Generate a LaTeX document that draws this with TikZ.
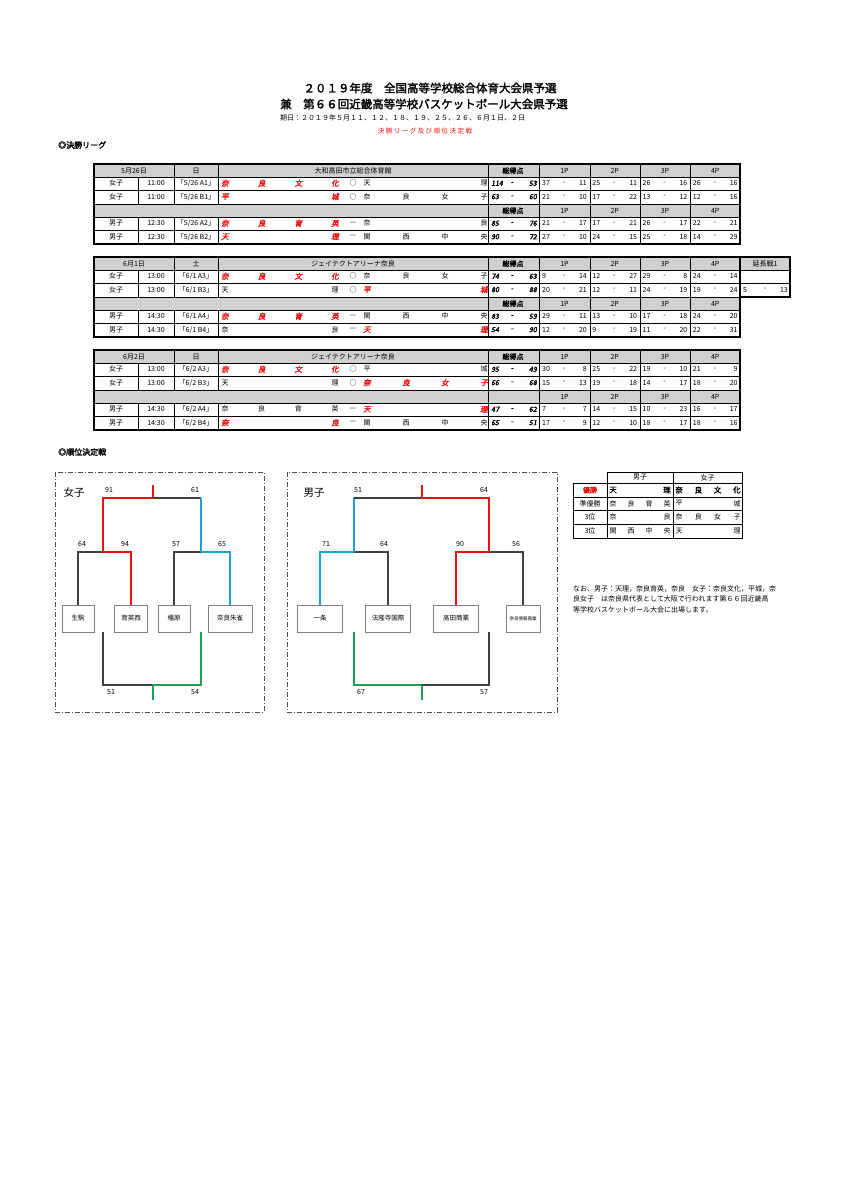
\documentclass[tikz,border=0pt]{standalone}
\usepackage{fontspec}
\setmainfont{Liberation Sans}
\newfontfamily\jp{Noto Sans CJK JP}
\newfontfamily\jpb[FakeBold=2.5,FakeSlant=0.2]{Noto Sans CJK JP}
\newfontfamily\jpbold[FakeBold=2]{Noto Sans CJK JP}
\definecolor{myred}{HTML}{EE1111}
\definecolor{myblue}{HTML}{1EA0E0}
\definecolor{mygreen}{HTML}{1AA050}
\definecolor{hdr}{HTML}{D0D0D0}
\newcommand\tm[6]{\foreach \ch [count=\i] in {#6} \node[t,#5] at ({#2+(\i-1)*(#3-#2)/(#4-1)},#1) {\ch};}
\newcommand\sco[4]{\node[t,anchor=west] at (#1+3,#2){#3}; \node[t] at (#1+25,#2){-}; \node[t,anchor=east] at (#1+48,#2){#4};}
\newcommand\tot[3]{\node[t,tb,anchor=west] at (491,#1){#2}; \node[t,tb] at (512,#1){-}; \node[t,tb,anchor=east] at (537,#1){#3};}
\newcommand\pers[2]{\foreach \a/\b [count=\k] in {#2} {\pgfmathsetmacro\xs{539+(\k-1)*50.25}\sco{\xs}{#1}{\a}{\b}}}
\newcommand\lrow[4]{\node[t] at (116,#1){#2}; \node[t] at (156,#1){#3}; \node[t] at (196,#1){#4};}
\newcommand\tgrid[5]{%
 \fill[hdr] (94,#1) rectangle (740,#1+13.3);
 \fill[hdr] (94,#1+40) rectangle (740,#1+53.3);
 \foreach \r in {1,2,3,4,5} \draw[thin] (94,#1+\r*13.33) -- (740,#1+\r*13.33);
 \foreach \xx in {174,218} {\draw[thin] (\xx,#1) -- (\xx,#1+40); \draw[thin] (\xx,#1+53.3) -- (\xx,#1+80);}
 \foreach \xx in {138} {\draw[thin] (\xx,#1+13.3) -- (\xx,#1+40); \draw[thin] (\xx,#1+53.3) -- (\xx,#1+80);}
 \foreach \xx in {488,539,590,640,690} \draw[thin] (\xx,#1) -- (\xx,#1+80);
 \draw[line width=1.1pt] (94,#1) rectangle (740,#1+80);
 \node[t] at (134,#1+6.7){#2}; \node[t] at (196,#1+6.7){#3}; \node[t] at (353,#1+6.7){#4};
 \node[t,font=\jpbold\fontsize{7}{8}\selectfont] at (513,#1+6.7){総得点};
 \node[t,font=\jpbold\fontsize{7}{8}\selectfont] at (513,#1+46.7){#5};
 \foreach \p [count=\k] in {1P,2P,3P,4P} {\pgfmathsetmacro\xs{564.5+(\k-1)*50.25}\node[t] at (\xs,#1+6.7){\p}; \node[t] at (\xs,#1+46.7){\p};}
}
\begin{document}
\begin{tikzpicture}[x=1pt,y=-1pt,
 t/.style={font=\jp\fontsize{7}{8}\selectfont,inner sep=0pt},
 tb/.style={font=\jpb\fontsize{7}{8}\selectfont},
 w/.style={font=\jpb\fontsize{7.5}{8}\selectfont,text=myred},
 team/.style={draw=gray,line width=0.6pt,minimum height=27pt,font=\jp\fontsize{6.5}{7}\selectfont,inner sep=0pt},
 num/.style={font=\jp\fontsize{7}{8}\selectfont,inner sep=0pt},
 br/.style={line width=1.2pt},
 frame/.style={draw=black!70,line width=0.8pt,dash pattern=on 5pt off 2pt on 1pt off 2pt}]
\useasboundingbox (0,0) rectangle (848,1200);
\fill[white] (0,0) rectangle (848,1200);
% titles
\node[font=\jpbold\fontsize{11.5}{13}\selectfont,inner sep=0pt] (t1) at (430,88) {２０１９年度\quad 全国高等学校総合体育大会県予選};
\node[font=\jpbold\fontsize{11.5}{13}\selectfont,inner sep=0pt] (t2) at (424,104) {兼\quad 第６６回近畿高等学校バスケットボール大会県予選};
\node[font=\jp\fontsize{7}{8}\selectfont,inner sep=0pt,anchor=west] (t3) at (280,118) {期日：２０１９年５月１１、１２、１８、１９、２５、２６、６月１日、２日};
\node[font=\jp\fontsize{6.5}{7}\selectfont,inner sep=0pt,text=myred] (t4) at (425,131) {決\ 勝\ リ\ ー\ グ\ 及\ び\ 順\ 位\ 決\ 定\ 戦};
\node[font=\jpbold\fontsize{8}{9}\selectfont,inner sep=0pt,anchor=west] (s1) at (58,145) {◎決勝リーグ};
\node[font=\jpbold\fontsize{8}{9}\selectfont,inner sep=0pt,anchor=west] (s2) at (58,452) {◎順位決定戦};
% ---- table 1
\tgrid{164}{5月26日}{日}{大和高田市立総合体育館}{総得点}
\lrow{183.3}{女子}{11:00}{「5/26\ A1」}\tm{183.3}{225}{335}{4}{w}{奈,良,文,化}\node[t] at (353,183.3){○};\tm{183.3}{367}{484}{2}{}{天,理}
\tot{183.3}{114}{53}\pers{183.3}{37/11,25/11,26/16,26/16}
\lrow{196.7}{女子}{11:00}{「5/26\ B1」}\tm{196.7}{225}{335}{2}{w}{平,城}\node[t] at (353,196.7){○};\tm{196.7}{367}{484}{4}{}{奈,良,女,子}
\tot{196.7}{63}{60}\pers{196.7}{21/10,17/22,13/12,12/16}
\lrow{223.3}{男子}{12:30}{「5/26\ A2」}\tm{223.3}{225}{335}{4}{w}{奈,良,育,英}\node[t] at (353,223.3){—};\tm{223.3}{367}{484}{2}{}{奈,良}
\tot{223.3}{85}{76}\pers{223.3}{21/17,17/21,26/17,22/21}
\lrow{236.7}{男子}{12:30}{「5/26\ B2」}\tm{236.7}{225}{335}{2}{w}{天,理}\node[t] at (353,236.7){—};\tm{236.7}{367}{484}{4}{}{関,西,中,央}
\tot{236.7}{90}{72}\pers{236.7}{27/10,24/15,25/18,14/29}
% ---- table 2
\fill[hdr] (740,257) rectangle (790,270.3);
\draw[thin] (740,270.3) -- (790,270.3);
\draw[thin] (740,283.6) -- (790,283.6);
\draw[line width=1.1pt] (740,257) rectangle (790,297);
\node[t] at (765,263.7){延長戦1};
\tgrid{257}{6月1日}{土}{ジェイテクトアリーナ奈良}{総得点}
\lrow{276.3}{女子}{13:00}{「6/1\ A3」}\tm{276.3}{225}{335}{4}{w}{奈,良,文,化}\node[t] at (353,276.3){○};\tm{276.3}{367}{484}{4}{}{奈,良,女,子}
\tot{276.3}{74}{63}\pers{276.3}{9/14,12/27,29/8,24/14}
\lrow{289.7}{女子}{13:00}{「6/1\ B3」}\tm{289.7}{225}{335}{2}{}{天,理}\node[t] at (353,289.7){○};\tm{289.7}{367}{484}{2}{w}{平,城}
\tot{289.7}{80}{88}\pers{289.7}{20/21,12/11,24/19,19/24,5/13}
\lrow{316.3}{男子}{14:30}{「6/1\ A4」}\tm{316.3}{225}{335}{4}{w}{奈,良,育,英}\node[t] at (353,316.3){—};\tm{316.3}{367}{484}{4}{}{関,西,中,央}
\tot{316.3}{83}{59}\pers{316.3}{29/11,13/10,17/18,24/20}
\lrow{329.7}{男子}{14:30}{「6/1\ B4」}\tm{329.7}{225}{335}{2}{}{奈,良}\node[t] at (353,329.7){—};\tm{329.7}{367}{484}{2}{w}{天,理}
\tot{329.7}{54}{90}\pers{329.7}{12/20,9/19,11/20,22/31}
% ---- table 3
\tgrid{350}{6月2日}{日}{ジェイテクトアリーナ奈良}{}
\lrow{369.3}{女子}{13:00}{「6/2\ A3」}\tm{369.3}{225}{335}{4}{w}{奈,良,文,化}\node[t] at (353,369.3){○};\tm{369.3}{367}{484}{2}{}{平,城}
\tot{369.3}{95}{49}\pers{369.3}{30/8,25/22,19/10,21/9}
\lrow{382.7}{女子}{13:00}{「6/2\ B3」}\tm{382.7}{225}{335}{2}{}{天,理}\node[t] at (353,382.7){○};\tm{382.7}{367}{484}{4}{w}{奈,良,女,子}
\tot{382.7}{66}{68}\pers{382.7}{15/13,19/18,14/17,18/20}
\lrow{409.3}{男子}{14:30}{「6/2\ A4」}\tm{409.3}{225}{335}{4}{}{奈,良,育,英}\node[t] at (353,409.3){—};\tm{409.3}{367}{484}{2}{w}{天,理}
\tot{409.3}{47}{62}\pers{409.3}{7/7,14/15,10/23,16/17}
\lrow{422.7}{男子}{14:30}{「6/2\ B4」}\tm{422.7}{225}{335}{2}{w}{奈,良}\node[t] at (353,422.7){—};\tm{422.7}{367}{484}{4}{}{関,西,中,央}
\tot{422.7}{65}{51}\pers{422.7}{17/9,12/10,18/17,18/16}
% ---- girls bracket
\draw[frame] (55,472) rectangle (264,712);
\node[font=\jp\fontsize{10.5}{11}\selectfont,inner sep=0pt] (gl) at (74,493) {女子};
\node[team,minimum width=32pt] (g1) at (78,618.5) {生駒};
\node[team,minimum width=33pt] (g2) at (131,618.5) {育英西};
\node[team,minimum width=32pt] (g3) at (174,618.5) {橿原};
\node[team,minimum width=44pt] (g4) at (230,618.5) {奈良朱雀};
\coordinate (gtop) at (153,485);
\coordinate (gbot) at (153,700);
\draw[br,black!75] (g1.north) |- (103,552);
\draw[br,myred] (103,552) -| (g2.north);
\draw[br,black!75] (g3.north) |- (201,552);
\draw[br,myblue] (201,552) -| (g4.north);
\draw[br,myred] (103,552) |- (153,498) -- (gtop);
\draw[br,black!75] (153,498) -- (201,498);
\draw[br,myblue] (201,498) -- (201,552);
\draw[br,black!75] (103,632) |- (153,685);
\draw[br,mygreen] (201,632) |- (153,685) -- (gbot);
\foreach \n/\xx/\yy in {91/109/490,61/195/490,64/82/544,94/125/544,57/176/544,65/222/544,51/111/692,54/195/692} \node[num] at (\xx,\yy) {\n};
% ---- boys bracket
\draw[frame] (287,472) rectangle (557,712);
\node[font=\jp\fontsize{10.5}{11}\selectfont,inner sep=0pt] (bl) at (314,493) {男子};
\node[team,minimum width=45pt] (b1) at (320,618.5) {一条};
\node[team,minimum width=45pt] (b2) at (388,618.5) {法隆寺国際};
\node[team,minimum width=45pt] (b3) at (456,618.5) {高田商業};
\node[team,minimum width=34pt,font=\jp\fontsize{4.5}{5}\selectfont] (b4) at (523,618.5) {奈良情報商業};
\coordinate (btop) at (422,485);
\coordinate (bbot) at (422,700);
\draw[br,myblue] (b1.north) |- (354,552);
\draw[br,black!75] (354,552) -| (b2.north);
\draw[br,myred] (b3.north) |- (489,552);
\draw[br,black!75] (489,552) -| (b4.north);
\draw[br,myblue] (354,552) |- (422,498);
\draw[br,black!75] (422,498) -- (354,498);
\draw[br,myred] (489,552) |- (422,498) -- (btop);
\draw[br,mygreen] (354,632) |- (422,685) -- (bbot);
\draw[br,black!75] (489,632) |- (422,685);
\foreach \n/\xx/\yy in {51/358/490,64/484/490,71/326/544,64/384/544,90/460/544,56/516/544,67/361/692,57/484/692} \node[num] at (\xx,\yy) {\n};
% ---- result table
\draw[thin] (607,472) -- (742,472);
\draw[thin] (573,483) -- (742,483);
\foreach \yy in {497,510,524} \draw[thin] (573,\yy) -- (742,\yy);
\draw[line width=0.9pt] (573,483) rectangle (742,538);
\draw[thin] (607,472) -- (607,538);
\draw[thin] (673,472) -- (673,538);
\draw[thin] (742,472) -- (742,483);
\node[t] at (640,477.5){男子}; \node[t] at (707.5,477.5){女子};
\node[t,font=\jpbold\fontsize{7}{8}\selectfont,text=myred] at (590,490){優勝};
\node[t] at (590,503.5){準優勝}; \node[t] at (590,517){3位}; \node[t] at (590,531){3位};
\tm{490}{613}{667}{2}{font=\jpbold\fontsize{7.5}{8}\selectfont}{天,理}
\tm{490}{679}{737}{4}{font=\jpbold\fontsize{7.5}{8}\selectfont}{奈,良,文,化}
\tm{503.5}{613}{667}{4}{}{奈,良,育,英}\tm{503.5}{679}{737}{2}{}{平,城}
\tm{517}{613}{667}{2}{}{奈,良}\tm{517}{679}{737}{4}{}{奈,良,女,子}
\tm{531}{613}{667}{4}{}{関,西,中,央}\tm{531}{679}{737}{2}{}{天,理}
\node[font=\jp\fontsize{7}{10.5}\selectfont,inner sep=0pt,anchor=north west,align=left] (note) at (573,585) {なお、男子：天理，奈良育英，奈良　女子：奈良文化，平城，奈\\良女子　は奈良県代表として大阪で行われます第６６回近畿高\\等学校バスケットボール大会に出場します。};
\end{tikzpicture}
\end{document}
